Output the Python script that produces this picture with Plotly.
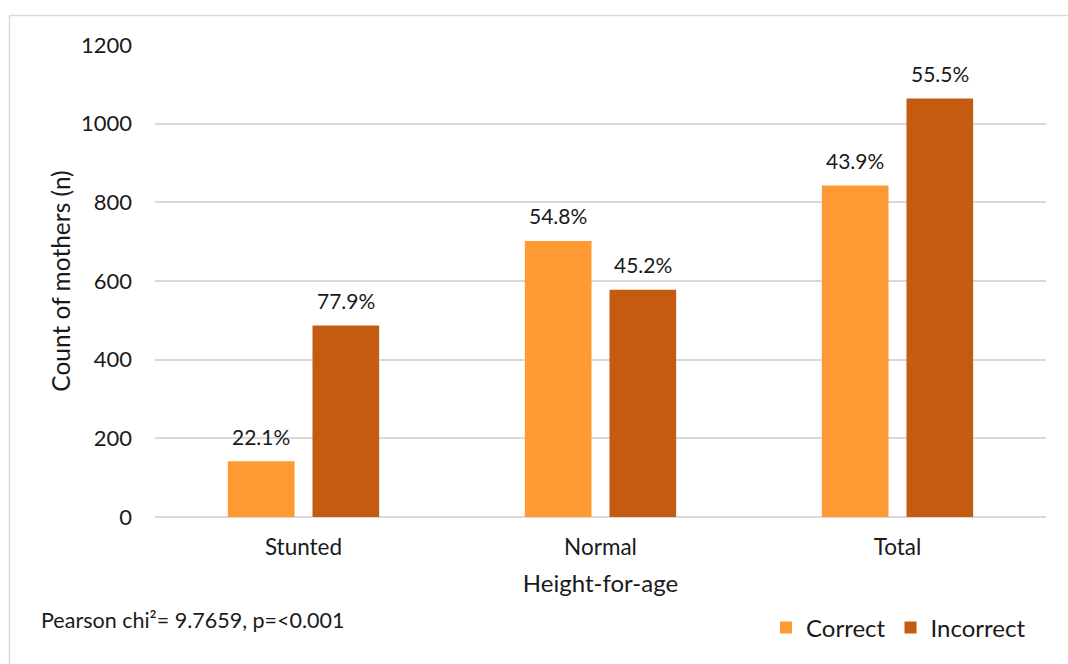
import plotly.graph_objects as go

categories = ["Stunted", "Normal", "Total"]
correct = [142, 702, 843]
incorrect = [487, 578, 1064]
correct_pct = ["22.1%", "54.8%", "43.9%"]
incorrect_pct = ["77.9%", "45.2%", "55.5%"]
y_ticks = [0, 200, 400, 600, 800, 1000, 1200]

C_CORRECT = "#FF9933"
C_INCORRECT = "#C55A11"
FONT = "Lato"
TXT = "#1a1a1a"

W, H = 1068, 664
L, R, T, B = 155, 22, 45, 147
pw, ph = W - L - R, H - T - B


def px_x(x):
    return (x - L) / pw


def px_y(y):
    return (H - B - y) / ph


fig = go.Figure()
fig.add_trace(go.Bar(name="Correct", x=categories, y=correct,
                     marker=dict(color=C_CORRECT, line=dict(width=0))))
fig.add_trace(go.Bar(name="Incorrect", x=categories, y=incorrect,
                     marker=dict(color=C_INCORRECT, line=dict(width=0))))

annotations = []
for cat, v, t in zip(categories, correct, correct_pct):
    annotations.append(dict(x=cat, y=v, text=t, xref="x", yref="y", showarrow=False,
                            xshift=-42.3, yshift=25, yanchor="middle",
                            font=dict(family=FONT, size=21, color=TXT)))
for cat, v, t in zip(categories, incorrect, incorrect_pct):
    annotations.append(dict(x=cat, y=v, text=t, xref="x", yref="y", showarrow=False,
                            xshift=42.3, yshift=25, yanchor="middle",
                            font=dict(family=FONT, size=21, color=TXT)))

annotations.append(dict(x=px_x(40), y=px_y(620), xref="paper", yref="paper",
                        text="Pearson chi²= 9.7659, p=<0.001", showarrow=False,
                        xanchor="left", yanchor="middle", borderpad=0,
                        font=dict(family=FONT, size=21.5, color=TXT)))

fig.update_layout(
    width=W, height=H,
    margin=dict(l=L, r=R, t=T, b=B, pad=0),
    paper_bgcolor="white", plot_bgcolor="white",
    font=dict(family=FONT, size=22, color=TXT),
    barmode="group", bargap=0.43, bargroupgap=0.2125,
    showlegend=True,
    legend=dict(orientation="h", x=px_x(766), y=px_y(628), xanchor="left", yanchor="middle",
                font=dict(family=FONT, size=24, color=TXT),
                itemwidth=30, traceorder="normal", bgcolor="rgba(0,0,0,0)"),
    annotations=annotations,
    xaxis=dict(showgrid=False, showline=False, ticks="", tickfont=dict(size=22.5, color=TXT),
               title=dict(text="Height-for-age", font=dict(size=24, color=TXT), standoff=16),
               ticklabelstandoff=14),
    yaxis=dict(range=[0, 1200], tickvals=y_ticks, showgrid=True, gridcolor="#d9d9d9",
               gridwidth=1.5, zeroline=True, zerolinecolor="#d9d9d9", zerolinewidth=1.5,
               showline=False, ticks="", tickfont=dict(size=22, color=TXT), ticklabelstandoff=22,
               title=dict(text="Count of mothers (n)", font=dict(size=24.5, color=TXT), standoff=3)),
    shapes=[dict(type="rect", xref="paper", yref="paper",
                 x0=px_x(9.5), x1=px_x(1075), y0=px_y(675), y1=px_y(15.5),
                 line=dict(color="#d9d9d9", width=1.5), fillcolor="rgba(0,0,0,0)", layer="below")],
)

fig.write_html("out.html")
